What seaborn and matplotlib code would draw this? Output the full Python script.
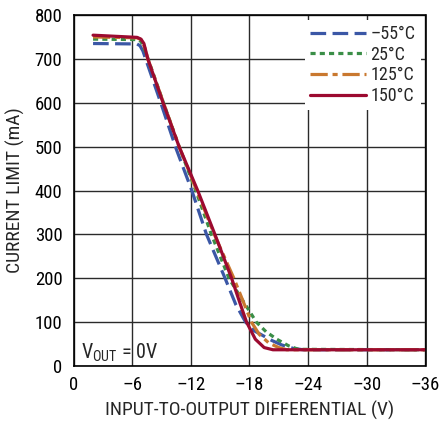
import matplotlib
matplotlib.use("Agg")
import matplotlib.pyplot as plt
from matplotlib import font_manager
import seaborn as sns
import pandas as pd

# ---- data ----
x_m55 = [-2, -6.5, -6.8, -7.1, -7.5, -9.0, -10.5, -12.1, -13.6, -15.5, -16.6, -17.6, -18.5, -19.4, -20.3, -21.3, -22.5, -23.5, -36]
y_m55 = [735, 734, 730, 718, 692, 595, 495, 400, 300, 200, 140, 100, 80, 69, 58, 48, 40, 37, 37]

x_25 = [-2, -6.5, -6.9, -7.3, -7.7, -9.2, -10.8, -12.5, -14.1, -15.9, -17.0, -18.0, -18.7, -19.7, -20.8, -22.0, -23.0, -36]
y_25 = [745, 744, 740, 720, 695, 600, 500, 400, 300, 200, 160, 125, 100, 78, 61, 46, 38, 37]

x_125 = [-2, -6.5, -6.9, -7.3, -7.6, -9.2, -10.8, -12.6, -14.4, -16.4, -17.3, -18.2, -19.0, -20.0, -21.0, -21.8, -36]
y_125 = [750, 748, 744, 725, 700, 600, 500, 400, 300, 200, 150, 100, 72, 52, 42, 37, 37]

x_150 = [-2, -6.5, -6.9, -7.2, -7.6, -9.16, -10.8, -12.7, -14.46, -16.17, -17.0, -17.7, -18.6, -19.5, -20.4, -36]
y_150 = [754, 749, 745, 735, 700, 600, 500, 400, 300, 200, 145, 100, 61, 42, 37, 37]

labels = ["\u201355\u00b0C", "25\u00b0C", "125\u00b0C", "150\u00b0C"]
x_ticks = [0, -6, -12, -18, -24, -30, -36]
x_ticklabels = ["0", "\u20136", "\u201312", "\u201318", "\u201324", "\u201330", "\u201336"]
y_ticks = [0, 100, 200, 300, 400, 500, 600, 700, 800]

colors = ["#3B57A6", "#3A8E47", "#C9782F", "#9C0A30"]
styles = [(0, (4.9, 2.0)), (0, (1.6, 1.3)), (0, (5.4, 1.5, 1.6, 1.5)), "-"]

sns.set_style("white")

available = {f.name for f in font_manager.fontManager.ttflist}
candidates = ["Roboto Condensed", "Liberation Sans Narrow", "Open Sans Condensed",
              "DejaVu Sans Condensed", "Roboto", "Liberation Sans"]
main_font = next((c for c in candidates if c in available), "DejaVu Sans")
plt.rcParams["font.family"] = [main_font, "DejaVu Sans"]
plt.rcParams["mathtext.fontset"] = "custom"
plt.rcParams["mathtext.rm"] = main_font
plt.rcParams["mathtext.it"] = main_font

fig = plt.figure(figsize=(4.41, 4.25), dpi=100)
ax = fig.add_axes([73.5 / 441, 1 - 366 / 425, 352 / 441, 351 / 425])

series = [(x_m55, y_m55), (x_25, y_25), (x_125, y_125), (x_150, y_150)]
for (xs, ys), lab, c, ls in zip(series, labels, colors, styles):
    df = pd.DataFrame({"x": xs, "y": ys})
    sns.lineplot(data=df, x="x", y="y", ax=ax, color=c, linestyle=ls,
                 linewidth=2.3, sort=False, label=lab, estimator=None)

ax.set_xlim(0, -36)
ax.set_ylim(0, 800)
ax.set_xticks(x_ticks)
ax.set_xticklabels(x_ticklabels)
ax.set_yticks(y_ticks)
ax.grid(True, color="#2a2a2a", linewidth=1.0)
ax.set_axisbelow(True)
for s in ax.spines.values():
    s.set_color("black")
    s.set_linewidth(1.2)
ax.tick_params(axis="both", length=0, labelsize=13.5, colors="black")
ax.tick_params(axis="y", pad=8)
ax.tick_params(axis="x", pad=7)

ax.set_xlabel("INPUT-TO-OUTPUT DIFFERENTIAL (V)", fontsize=14, labelpad=5)
ax.set_ylabel("CURRENT LIMIT (mA)", fontsize=14, labelpad=7)

ax.text(-0.75, 17, r"V$_{\rm OUT}$ = 0V", fontsize=14.5, va="baseline", ha="left")

leg = ax.legend(loc="upper right", fontsize=13, frameon=True, fancybox=False,
                framealpha=1, facecolor="white", edgecolor="none",
                handlelength=3.1, handletextpad=0.25, labelspacing=0.15,
                borderaxespad=0.25, borderpad=0.3)

fig.savefig("out.png", dpi=100)
